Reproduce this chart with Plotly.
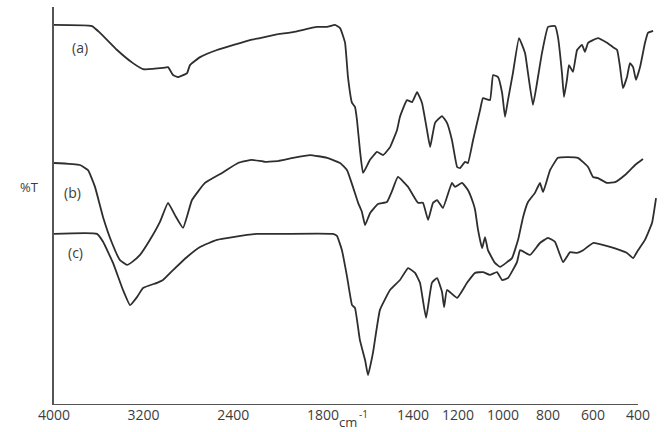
import plotly.graph_objects as go

# ---- data (wavenumber cm-1, %T arbitrary) ----
a_wn = [4000, 3661, 3589, 3437, 3295, 3205, 3027, 2982, 2937, 2893, 2812, 2786, 2696, 2545, 2250, 2161, 2000,
        1933, 1827, 1782, 1747, 1724, 1702, 1689, 1671, 1658, 1649, 1636, 1622, 1591, 1560, 1533, 1502, 1471,
        1458, 1427, 1404, 1382, 1360, 1338, 1324, 1302, 1271, 1249, 1227, 1204, 1191, 1169, 1156, 1133, 1102,
        1089, 1058, 1044, 1022, 1004, 991, 978, 956, 929, 902, 889, 867, 849, 827, 800, 769, 756, 738, 729,
        716, 707, 689, 671, 649, 636, 622, 578, 538, 511, 493, 480, 467, 449, 436, 422, 409, 391, 369, 356, 333]
a_t = [95.5, 95.2, 93.5, 89.2, 85.9, 84.4, 84.7, 84.9, 82.9, 82.4, 83.4, 85.4, 87.4, 89.2, 91.7, 92.2, 93.2,
       93.7, 95.0, 95.0, 95.5, 94.7, 91.0, 82.4, 75.9, 74.9, 71.6, 64.1, 58.3, 61.6, 63.6, 62.8, 64.8, 69.1,
       72.4, 76.6, 76.1, 78.6, 75.9, 69.1, 64.8, 70.9, 72.6, 70.9, 66.6, 59.8, 59.5, 61.1, 60.8, 66.6, 74.1,
       77.1, 76.6, 82.9, 82.4, 78.4, 72.4, 76.6, 83.4, 92.2, 88.4, 83.4, 75.4, 80.9, 88.4, 95.0, 95.2, 92.5,
       83.4, 77.4, 81.7, 85.4, 83.7, 89.2, 90.5, 88.7, 91.0, 92.2, 91.0, 89.9, 89.2, 84.9, 79.6, 82.4, 85.9,
       84.9, 81.7, 84.9, 91.0, 93.5, 94.0]

b_wn = [4000, 3768, 3696, 3634, 3562, 3482, 3411, 3348, 3304, 3232, 3143, 3054, 2982, 2920, 2848, 2804, 2768,
        2652, 2500, 2357, 2232, 2116, 2000, 1933, 1858, 1782, 1724, 1693, 1667, 1644, 1627, 1613, 1591, 1556,
        1516, 1493, 1467, 1422, 1378, 1356, 1333, 1311, 1293, 1267, 1227, 1213, 1182, 1156, 1133, 1124, 1111,
        1093, 1080, 1067, 1036, 1013, 982, 960, 933, 911, 889, 858, 836, 822, 791, 756, 716, 667, 622, 600,
        578, 538, 502, 458, 413, 378]
b_t = [60.8, 60.3, 59.0, 54.8, 47.2, 40.7, 36.4, 35.2, 35.9, 37.7, 41.5, 46.0, 50.8, 47.7, 44.5, 48.2, 51.5,
       55.8, 58.3, 60.8, 61.6, 61.1, 61.3, 62.1, 62.8, 62.1, 60.8, 59.0, 54.8, 50.8, 48.5, 45.2, 48.2, 50.5,
       51.0, 53.8, 57.3, 54.8, 50.8, 50.8, 46.5, 50.8, 51.5, 49.5, 55.8, 54.8, 55.8, 54.0, 50.8, 49.0, 44.0,
       39.4, 42.2, 38.9, 35.7, 34.7, 35.9, 36.9, 41.5, 47.2, 51.0, 53.3, 55.8, 53.5, 59.0, 62.1, 62.3, 62.1,
       59.8, 57.3, 57.0, 55.8, 56.0, 57.8, 60.3, 61.8]

c_wn = [4000, 3616, 3562, 3473, 3384, 3321, 3259, 3205, 3080, 3027, 2937, 2812, 2696, 2545, 2402, 2187, 2000,
        1756, 1738, 1716, 1693, 1671, 1658, 1636, 1613, 1600, 1578, 1547, 1502, 1458, 1422, 1391, 1369, 1342,
        1316, 1293, 1271, 1262, 1249, 1204, 1160, 1124, 1089, 1058, 1027, 1004, 978, 938, 924, 880, 836, 800,
        769, 733, 702, 671, 644, 600, 524, 480, 449, 422, 400, 369, 338, 320]
c_t = [43.0, 43.0, 41.0, 35.7, 28.9, 25.1, 27.1, 29.4, 30.7, 31.4, 33.9, 37.2, 39.7, 41.5, 42.2, 43.0, 43.0,
       43.0, 42.5, 38.9, 32.2, 25.1, 24.4, 16.3, 11.3, 7.5, 13.1, 23.9, 28.9, 31.4, 34.4, 33.2, 30.7, 21.9,
       30.7, 31.9, 28.4, 24.6, 28.9, 26.9, 30.7, 33.2, 33.4, 32.7, 33.4, 31.4, 31.9, 35.9, 38.9, 37.7, 40.7,
       42.0, 41.0, 35.9, 38.4, 38.2, 38.9, 40.7, 39.7, 38.9, 38.2, 36.9, 38.9, 41.5, 45.7, 52.0]

series = [("(a)", a_wn, a_t), ("(b)", b_wn, b_t), ("(c)", c_wn, c_t)]
left_ticks = [4000, 3200, 2400]
right_ticks = [1800, 1400, 1200, 1000, 800, 600, 400]
BREAK = 2000

LINE = "#2e2e2e"
TXT = "#3c3c3c"
FONT = "Open Sans"

fig = go.Figure()
for name, wn, t in series:
    lx = [w for w in wn if w >= BREAK]
    ly = [v for w, v in zip(wn, t) if w >= BREAK]
    rx = [w for w in wn if w <= BREAK]
    ry = [v for w, v in zip(wn, t) if w <= BREAK]
    for xs, ys, xa in ((lx, ly, "x"), (rx, ry, "x2")):
        fig.add_trace(go.Scatter(x=xs, y=ys, mode="lines", xaxis=xa, yaxis="y",
                                 line=dict(color=LINE, width=1.8, shape="spline", smoothing=0.35),
                                 showlegend=False, name=name, hoverinfo="skip"))

split = 224 / 606
axcommon = dict(showgrid=False, zeroline=False, showline=False, ticks="",
                tickfont=dict(family=FONT, size=14, color=TXT), anchor="y", tickmode="array")
fig.update_layout(
    width=664, height=432,
    margin=dict(l=54, r=4, t=7, b=27),
    plot_bgcolor="white", paper_bgcolor="white",
    xaxis=dict(domain=[0, split], range=[4000, BREAK], tickvals=left_ticks,
               ticktext=[str(v) for v in left_ticks], **axcommon),
    xaxis2=dict(domain=[split, 1], range=[BREAK, 302.4], tickvals=right_ticks,
                ticktext=[str(v) for v in right_ticks], **axcommon),
    yaxis=dict(range=[0, 100], showgrid=False, zeroline=False, showticklabels=False,
               showline=True, linecolor="#555555", linewidth=2, ticks=""),
)

# bottom axis line (ends at 400)
fig.add_shape(type="line", xref="x", yref="y", x0=4000, x1=BREAK, y0=0, y1=0,
              line=dict(color="#555555", width=1.8))
fig.add_shape(type="line", xref="x2", yref="y", x0=BREAK, x1=400, y0=0, y1=0,
              line=dict(color="#555555", width=1.8))

ann = dict(showarrow=False, font=dict(family=FONT, size=14, color=TXT), xref="paper", yref="paper",
           xanchor="center", yanchor="middle")
fig.add_annotation(text="(a)", x=0.043, y=0.897, **ann)
fig.add_annotation(text="(b)", x=0.031, y=0.535, **ann)
fig.add_annotation(text="(c)", x=0.035, y=0.384, **ann)
fig.add_annotation(text="%T", x=-0.040, y=0.548, showarrow=False, xref="paper", yref="paper",
                   xanchor="center", yanchor="middle", font=dict(family=FONT, size=13, color=TXT))
fig.add_annotation(text="cm", x=0.485, y=-0.043, showarrow=False, xref="paper", yref="paper",
                   xanchor="center", yanchor="middle", font=dict(family=FONT, size=13, color=TXT))
fig.add_annotation(text="-1", x=0.510, y=-0.022, showarrow=False, xref="paper", yref="paper",
                   xanchor="center", yanchor="middle", font=dict(family=FONT, size=10, color=TXT))

fig.write_html("out.html", config={"displayModeBar": False},
               post_script="document.body.style.margin='0px';")
